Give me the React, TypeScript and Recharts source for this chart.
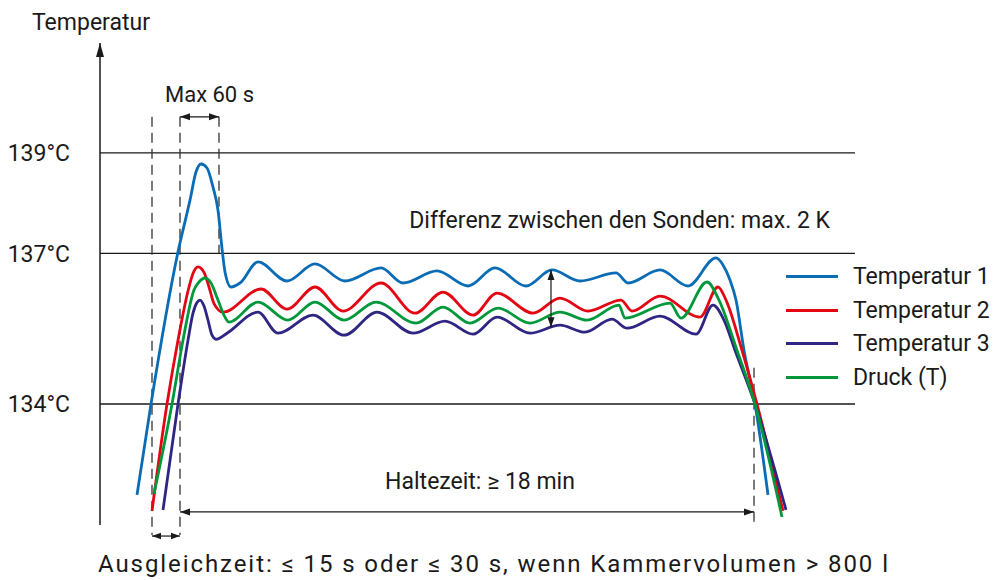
import React from 'react';
import { LineChart, Line, XAxis, YAxis, ReferenceLine, Legend } from 'recharts';

const FONT = 'Roboto, "Noto Sans", sans-serif';
const INK = '#1a1a1a';

// Series names, colours and axis ticks
const seriesNames = ['Temperatur 1', 'Temperatur 2', 'Temperatur 3', 'Druck (T)'];
const seriesColors = ['#0a6cb4', '#e30613', '#2e2682', '#00983a'];
const yTicks = [134, 137, 139];
const referenceTemps = [139, 137, 134];

// [time (schematic s), temperature (°C)]
const temperatur1: [number, number][] = [
  [37, 132.19], [51, 134.0], [78, 137.03], [90, 138.06], [96, 138.62], [101, 138.78],
  [107, 138.7], [113, 138.32], [118, 137.86], [122, 137.1], [125, 136.63], [131, 136.33],
  [140, 136.41], [158, 136.83], [187, 136.45], [215, 136.79], [245, 136.45], [281, 136.71],
  [303, 136.41], [337, 136.65], [368, 136.35], [395, 136.71], [426, 136.35], [452, 136.67],
  [480, 136.45], [516, 136.61], [528, 136.41], [560, 136.67], [588, 136.35], [616, 136.91],
  [623, 136.77], [630, 136.47], [636, 136.07], [644, 135.07], [655, 134.0], [668, 132.19],
];
const temperatur2: [number, number][] = [
  [52, 131.87], [67, 134.0], [78, 135.27], [88, 136.25], [93, 136.6], [98, 136.73],
  [104, 136.62], [109, 136.33], [114, 136.0], [123, 135.83], [161, 136.29], [187, 135.89],
  [215, 136.33], [243, 135.85], [281, 136.41], [315, 135.81], [343, 136.23], [373, 135.77],
  [397, 136.21], [433, 135.81], [460, 136.11], [488, 135.85], [521, 136.07], [532, 135.85],
  [560, 136.15], [600, 135.73], [618, 136.33], [626, 136.07], [642, 135.07], [657, 134.0],
  [683, 131.87],
];
const temperatur3: [number, number][] = [
  [63, 131.89], [78, 134.0], [88, 135.27], [93, 135.81], [97, 136.02], [100, 136.07],
  [104, 135.95], [108, 135.67], [112, 135.37], [116, 135.29], [127, 135.41], [158, 135.83],
  [178, 135.41], [213, 135.77], [244, 135.37], [277, 135.83], [313, 135.41], [345, 135.65],
  [373, 135.39], [397, 135.73], [430, 135.41], [460, 135.57], [485, 135.43], [512, 135.69],
  [527, 135.51], [560, 135.75], [596, 135.39], [613, 135.97], [624, 135.67], [635, 135.07],
  [655, 134.0], [686, 131.89],
];
const druck: [number, number][] = [
  [54, 132.21], [72, 134.0], [83, 135.27], [94, 136.27], [99, 136.43], [105, 136.51],
  [111, 136.41], [118, 136.07], [125, 135.73], [129, 135.63], [158, 136.03], [188, 135.67],
  [215, 136.03], [244, 135.67], [276, 136.03], [316, 135.61], [343, 135.93], [370, 135.61],
  [398, 135.91], [430, 135.61], [460, 135.83], [487, 135.67], [519, 135.97], [525, 135.71],
  [570, 136.01], [581, 135.71], [607, 136.43], [619, 136.07], [637, 135.07], [655, 134.0],
  [682, 131.75],
];

const allSeries = [temperatur1, temperatur2, temperatur3, druck].map((arr) =>
  arr.map(([t, temp]) => ({ t, temp }))
);

const makeArrow = (both: boolean, headLen = 10, headHalf = 3.5, sw = 1.2) => (props: any) => {
  const { x1, y1, x2, y2 } = props;
  const dx = x2 - x1;
  const dy = y2 - y1;
  const len = Math.hypot(dx, dy) || 1;
  const ux = dx / len;
  const uy = dy / len;
  const head = (tx: number, ty: number, vx: number, vy: number) => {
    const bx = tx - vx * headLen;
    const by = ty - vy * headLen;
    return `${tx},${ty} ${bx - vy * headHalf},${by + vx * headHalf} ${bx + vy * headHalf},${by - vx * headHalf}`;
  };
  return (
    <g>
      <line x1={x1} y1={y1} x2={x2} y2={y2} stroke={INK} strokeWidth={sw} />
      <polygon points={head(x2, y2, ux, uy)} fill={INK} />
      {both && <polygon points={head(x1, y1, -ux, -uy)} fill={INK} />}
    </g>
  );
};

const renderLegend = () => (
  <div style={{ fontFamily: FONT, fontSize: 23, color: INK }}>
    {seriesNames.map((name, i) => (
      <div key={name} style={{ display: 'flex', alignItems: 'center', height: 33.5, whiteSpace: 'nowrap' }}>
        <span style={{ display: 'inline-block', width: 52, height: 3, background: seriesColors[i], marginRight: 15 }} />
        <span>{name}</span>
      </div>
    ))}
  </div>
);

const dash = { stroke: '#333', strokeWidth: 1.3, strokeDasharray: '10 6' };

export default function App() {
  return (
    <div style={{ position: 'absolute', left: 0, top: 0, width: 997, height: 580, background: '#fff' }}>
      <LineChart width={997} height={580} margin={{ top: 43, right: 142, bottom: 55, left: 0 }}>
        <XAxis type="number" dataKey="t" domain={[0, 755]} hide allowDataOverflow />
        <YAxis
          type="number"
          domain={[131.59, 141.19]}
          allowDataOverflow
          ticks={yTicks}
          interval={0}
          width={100}
          axisLine={false}
          tickLine={false}
          tickSize={0}
          tickMargin={30}
          tickFormatter={(v: number) => `${v}°C`}
          tick={{ fontSize: 23, fill: INK, fontFamily: FONT }}
        />
        {referenceTemps.map((v) => (
          <ReferenceLine key={v} y={v} stroke={INK} strokeWidth={1.3} />
        ))}
        <ReferenceLine
          segment={[{ x: 0, y: 131.59 }, { x: 0, y: 141.19 }]}
          ifOverflow="visible"
          shape={makeArrow(false, 14, 4, 1.5)}
        />
        <ReferenceLine segment={[{ x: 52, y: 139.72 }, { x: 52, y: 131.39 }]} ifOverflow="visible" {...dash} />
        <ReferenceLine segment={[{ x: 80, y: 139.72 }, { x: 80, y: 131.39 }]} ifOverflow="visible" {...dash} />
        <ReferenceLine segment={[{ x: 119, y: 139.72 }, { x: 119, y: 137.0 }]} ifOverflow="visible" {...dash} />
        <ReferenceLine segment={[{ x: 654, y: 134.72 }, { x: 654, y: 131.59 }]} ifOverflow="visible" {...dash} />
        {allSeries.map((data, i) => (
          <Line
            key={seriesNames[i]}
            data={data}
            dataKey="temp"
            name={seriesNames[i]}
            type="monotone"
            stroke={seriesColors[i]}
            strokeWidth={2.8}
            dot={false}
            activeDot={false}
            isAnimationActive={false}
          />
        ))}
        <ReferenceLine segment={[{ x: 80, y: 139.72 }, { x: 119, y: 139.72 }]} ifOverflow="visible" shape={makeArrow(true)} />
        <ReferenceLine segment={[{ x: 451, y: 136.67 }, { x: 451, y: 135.53 }]} ifOverflow="visible" shape={makeArrow(true)} />
        <ReferenceLine segment={[{ x: 80, y: 131.85 }, { x: 654, y: 131.85 }]} ifOverflow="visible" shape={makeArrow(true)} />
        <ReferenceLine segment={[{ x: 52, y: 131.37 }, { x: 80, y: 131.37 }]} ifOverflow="visible" shape={makeArrow(true, 9, 3.2)} />
        <Legend
          layout="vertical"
          align="center"
          verticalAlign="middle"
          content={renderLegend}
          wrapperStyle={{ left: 786, top: 260, width: 211, height: 134 }}
        />
      </LineChart>
      <svg
        width={997}
        height={580}
        style={{ position: 'absolute', left: 0, top: 0, pointerEvents: 'none' }}
        fontFamily={FONT}
        fill={INK}
        fontSize={23}
      >
        <text x={32} y={30}>Temperatur</text>
        <text x={209.5} y={102} textAnchor="middle" fontSize={22}>Max 60 s</text>
        <text x={830} y={228} textAnchor="end">Differenz zwischen den Sonden: max. 2 K</text>
        <text x={480} y={489} textAnchor="middle">Haltezeit: ≥ 18 min</text>
        <text x={98} y={572} fontSize={24} textLength={790} lengthAdjust="spacing">
          Ausgleichzeit: ≤ 15 s oder ≤ 30 s, wenn Kammervolumen &gt; 800 l
        </text>
      </svg>
    </div>
  );
}
